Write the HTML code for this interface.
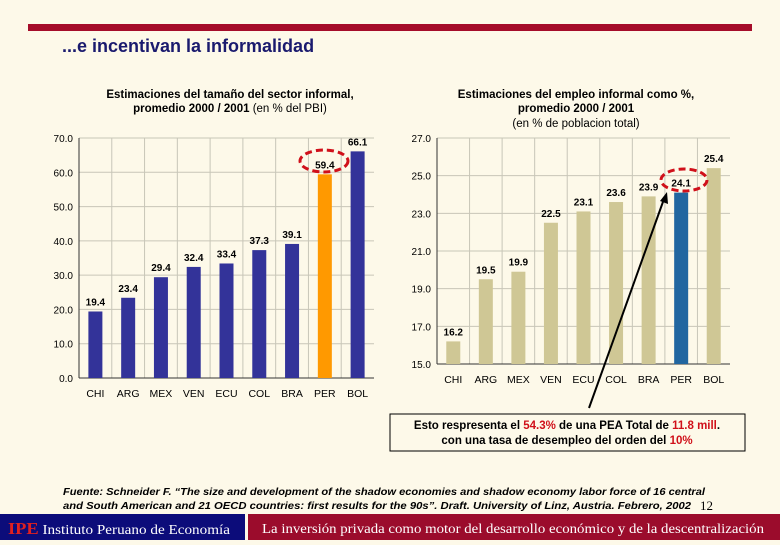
<!DOCTYPE html>
<html><head><meta charset="utf-8">
<style>
html,body{margin:0;padding:0;background:#fdf9e9;}
body{width:780px;height:540px;overflow:hidden;position:relative;font-family:"Liberation Sans",sans-serif;}
</style></head>
<body>
<svg id="s" width="780" height="540" viewBox="0 0 780 540" xmlns="http://www.w3.org/2000/svg" font-family="Liberation Sans, sans-serif">
<rect x="0" y="0" width="780" height="540" fill="#fdf9e9"/>
<rect x="28" y="24" width="724" height="7" fill="#a50d2a"/>
<text x="62" y="52" font-size="18" font-weight="bold" fill="#1a1a6e">...e incentivan la informalidad</text>
<g font-size="11.5" text-anchor="middle" fill="#000">
<text x="230" y="98" font-weight="bold">Estimaciones del tamaño del sector informal,</text>
<text x="230" y="112"><tspan font-weight="bold">promedio 2000 / 2001</tspan> (en % del PBI)</text>
<text x="576" y="98" font-weight="bold">Estimaciones del empleo informal como %,</text>
<text x="576" y="112" font-weight="bold">promedio 2000 / 2001</text>
<text x="576" y="127">(en % de poblacion total)</text>
</g>
<g id="left"></g>
<g id="right"></g>
<ellipse cx="324" cy="161" rx="24" ry="11" fill="none" stroke="#d0101a" stroke-width="3" stroke-dasharray="7,4"/>
<ellipse cx="684" cy="180" rx="23" ry="11" fill="none" stroke="#d0101a" stroke-width="3" stroke-dasharray="7,4"/>
<line x1="589" y1="408" x2="664" y2="199" stroke="#000" stroke-width="2"/>
<polygon points="667,192 668,204 660,201" fill="#000"/>
<rect x="390" y="414" width="355" height="37" fill="#fdf9e9" stroke="#000" stroke-width="1"/>
<g font-size="11.5" font-weight="bold" text-anchor="middle">
<text x="567" y="429">Esto respresenta el <tspan fill="#d0101a">54.3%</tspan> de una PEA Total de <tspan fill="#d0101a">11.8 mill</tspan>.</text>
<text x="567" y="444">con una tasa de desempleo del orden del <tspan fill="#d0101a">10%</tspan></text>
</g>
<g font-size="10" font-weight="bold" font-style="italic">
<text x="63" y="495" textLength="642" lengthAdjust="spacingAndGlyphs">Fuente: Schneider F. “The size and development of the shadow economies  and  shadow economy labor force of 16 central</text>
<text x="63" y="509" textLength="628" lengthAdjust="spacingAndGlyphs">and South American and 21 OECD countries: first results for the 90s”. Draft. University of Linz, Austria. Febrero, 2002</text>
</g>
<text x="700" y="510" font-size="13" style="font-family:'Liberation Serif',serif">12</text>
<rect x="0" y="514" width="245" height="26" fill="#0c0c7a"/>
<rect x="248" y="514" width="532" height="26" fill="#9b0c2c"/>
<text x="8" y="534" font-size="14" fill="#fff" style="font-family:'Liberation Serif',serif" textLength="222" lengthAdjust="spacingAndGlyphs"><tspan fill="#e02020" font-weight="bold" font-size="17">IPE</tspan> Instituto Peruano de Economía</text>
<text x="262" y="533" font-size="14" fill="#fff" style="font-family:'Liberation Serif',serif" textLength="502" lengthAdjust="spacingAndGlyphs">La inversión privada como motor del desarrollo económico y de la descentralización</text>
</svg>
<script>
const categories = ["CHI","ARG","MEX","VEN","ECU","COL","BRA","PER","BOL"];
const sectorValues = [19.4,23.4,29.4,32.4,33.4,37.3,39.1,59.4,66.1];
const employmentValues = [16.2,19.5,19.9,22.5,23.1,23.6,23.9,24.1,25.4];
const leftTicks = ["0.0","10.0","20.0","30.0","40.0","50.0","60.0","70.0"];
const rightTicks = ["15.0","17.0","19.0","21.0","23.0","25.0","27.0"];
const NS="http://www.w3.org/2000/svg";
function mk(parent,tag,attrs){const e=document.createElementNS(NS,tag);for(const k in attrs)e.setAttribute(k,attrs[k]);parent.appendChild(e);return e;}
function chart(g,cfg){
  const {x0,x1,yTop,yBot,min,max,ticks,values,colors,prefix}=cfg;
  const ys=v=>yBot-(v-min)/(max-min)*(yBot-yTop);
  const n=categories.length, bw=(x1-x0)/n;
  const xs=i=>x0+bw*(i+0.5);
  ticks.forEach(t=>{const y=ys(parseFloat(t));
    const l=mk(g,'line',{x1:x0,x2:x1,y1:y,y2:y,stroke:'#c8c6b8','stroke-width':1});
    
    
    const tx=mk(g,'text',{x:x0-6,y:y+4,'font-size':10,'text-anchor':'end',fill:'#000'});tx.textContent=t;
    
    
  });
  for(let i=1;i<n;i++){const x=x0+bw*i;
    const l=mk(g,'line',{x1:x,x2:x,y1:yTop,y2:yBot,stroke:'#c8c6b8','stroke-width':1});
    
    
  }
  const ax=mk(g,'line',{x1:x0,x2:x0,y1:yTop,y2:yBot,stroke:'#333','stroke-width':1});
  
  
  const bx=mk(g,'line',{x1:x0,x2:x1,y1:yBot,y2:yBot,stroke:'#333','stroke-width':1});
  
  
  values.forEach((v,i)=>{
    const y=ys(v);
    const r=mk(g,'rect',{x:xs(i)-7,y:y,width:14,height:yBot-y,fill:colors[i]});
    
    
    const t=mk(g,'text',{x:xs(i),y:y-6,'font-size':10,'font-weight':'bold','text-anchor':'middle'});t.textContent=v.toFixed(1);
    
    
    const c=mk(g,'text',{x:xs(i),y:yBot+19,'font-size':10.5,'text-anchor':'middle'});c.textContent=categories[i];
    
    
  });
}
chart(document.getElementById('left'),{x0:79,x1:374,yTop:138,yBot:378,min:0,max:70,ticks:leftTicks,values:sectorValues,
  colors:categories.map(c=>c==='PER'?'#ff9900':'#333399'),prefix:'sector'});
chart(document.getElementById('right'),{x0:437,x1:730,yTop:138,yBot:364,min:15,max:27,ticks:rightTicks,values:employmentValues,
  colors:categories.map(c=>c==='PER'?'#2166a0':'#cfc795'),prefix:'employment'});
</script>
</body></html>
